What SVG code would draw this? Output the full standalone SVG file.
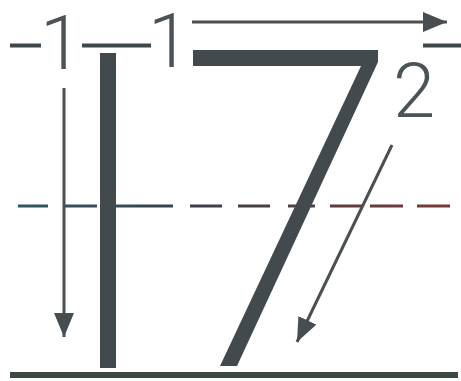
<svg xmlns="http://www.w3.org/2000/svg" width="461" height="381" viewBox="0 0 461 381">
  <defs>
    <style>
      .ink { fill: #434a4e; }
      .num { font-family: Roboto, "Liberation Sans", sans-serif; font-weight: 300; font-size: 76px; fill: #4a5356; text-anchor: middle; }
      .guide { stroke: #3e474b; stroke-width: 4; fill: none; }
      .arrow { stroke: #4a5052; stroke-width: 3; fill: none; }
    </style>
    <linearGradient id="dashGrad" x1="0" y1="0" x2="461" y2="0" gradientUnits="userSpaceOnUse">
      <stop offset="0" stop-color="#2e5866"/>
      <stop offset="0.45" stop-color="#3c3f48"/>
      <stop offset="1" stop-color="#7a3b34"/>
    </linearGradient>
    <marker id="head" viewBox="0 0 24 20" refX="24" refY="10" markerWidth="24" markerHeight="20" markerUnits="userSpaceOnUse" orient="auto">
      <path d="M0 0 L24 10 L0 20 Z" fill="#474d50"/>
    </marker>
  </defs>
  <rect width="461" height="381" fill="#ffffff"/>

  <g id="guides">
    <path class="guide" d="M10 45.5H41 M82 45.5H151 M423 45.5H461"/>
    <path d="M18 206H48 M63 206H97 M113 206H173 M190 206H222 M238 206H270 M288 206H315 M330 206H363 M370 206H403 M417 206H450" stroke="url(#dashGrad)" stroke-width="3" fill="none"/>
    <rect x="10" y="372" width="448" height="6" fill="#3d4a42"/>
  </g>

  <g id="letter-I">
    <rect class="ink" x="100" y="53" width="16" height="315"/>
  </g>

  <g id="digit-7">
    <polygon class="ink" points="193,50 378,50 378,62 237,366 220,366 361,66 193,66"/>
  </g>

  <g id="labels">
    <text id="label-1a" class="num" x="61" y="69">1</text>
    <text id="label-1b" class="num" x="169" y="67">1</text>
    <text id="label-2" class="num" x="414" y="117">2</text>
  </g>

  <g id="connectors">
    <line class="arrow" x1="64" y1="88" x2="64" y2="337" marker-end="url(#head)"/>
    <line class="arrow" x1="192" y1="22" x2="447" y2="22" marker-end="url(#head)"/>
    <line class="arrow" x1="392" y1="145" x2="297" y2="342" marker-end="url(#head)"/>
  </g>
</svg>
